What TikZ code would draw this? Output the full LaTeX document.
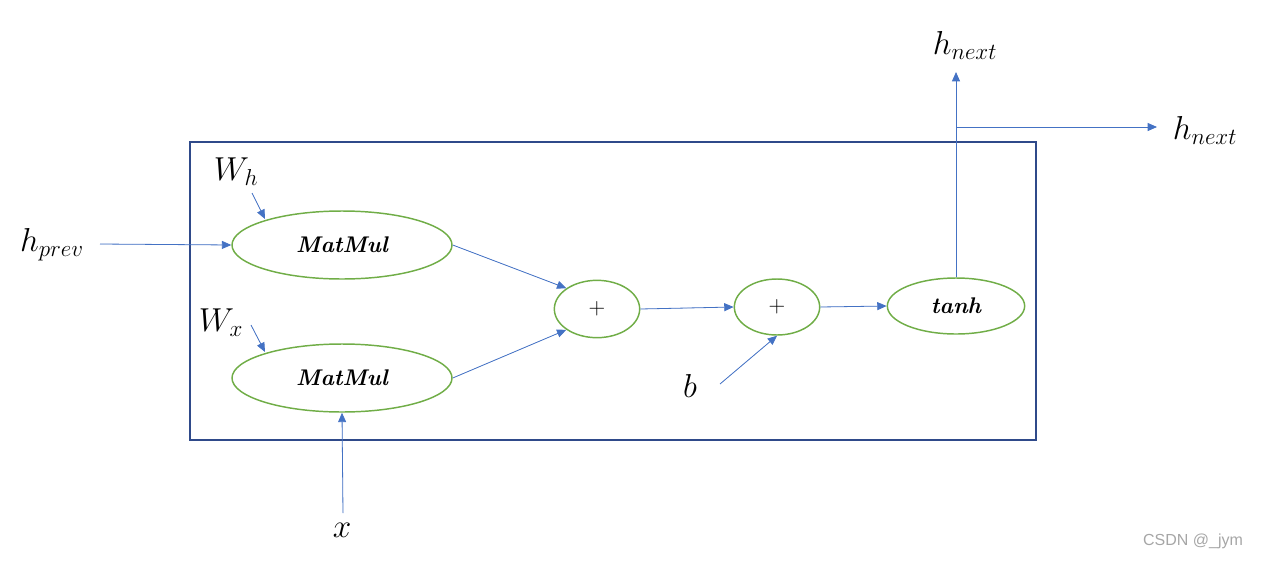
\documentclass[tikz,border=0pt]{standalone}
\usepackage{fontspec}
\newfontfamily\wmfont{Liberation Sans}
\usetikzlibrary{shapes.geometric,arrows.meta}
\definecolor{gr}{HTML}{70AD47}
\definecolor{bl}{HTML}{4472C4}
\definecolor{bx}{HTML}{2F4A8A}
\begin{document}
\begin{tikzpicture}[x=0.75pt,y=-0.75pt,
 op/.style={ellipse,draw=gr,line width=1.1pt,inner sep=0pt},
 ar/.style={draw=bl,line width=0.6pt,-{Triangle[length=7pt,width=6pt]},fill=bl},
 lb/.style={font=\fontsize{23}{26}\selectfont},
 mm/.style={font=\fontsize{17}{20}\selectfont\bfseries\itshape}]
\useasboundingbox (0,0) rectangle (1263,561);
\draw[bx,line width=1.2pt] (190,142) rectangle (1036,440);
\node[op,minimum width=165pt,minimum height=51pt,mm] (m1) at (342,245) {MatMul};
\node[op,minimum width=165pt,minimum height=51pt,mm] (m2) at (342,378) {MatMul};
\node[op,minimum width=64pt,minimum height=43pt,font=\fontsize{17}{19}\selectfont] (p1) at (597,309) {$+$};
\node[op,minimum width=64pt,minimum height=42pt,font=\fontsize{17}{19}\selectfont] (p2) at (777,307) {$+$};
\node[op,minimum width=103pt,minimum height=42pt,mm] (t) at (956,306) {tanh};
\node[lb] (hp) at (52,245) {$h_{prev}$};
\node[lb] (wh) at (236,172) {$W_h$};
\node[lb] (wx) at (221,323) {$W_x$};
\node[lb] (x) at (342,530) {$x$};
\node[lb] (b) at (690,386) {$b$};
\node[lb] (hn1) at (965,45) {$h_{next}$};
\node[lb] (hn2) at (1205,130) {$h_{next}$};
\node[text=gray!70,font=\wmfont\fontsize{12}{14}\selectfont] (wm) at (1193,541) {CSDN @\_jym};
\coordinate (a1) at (100,244);
\coordinate (a2) at (252,193);
\coordinate (a3) at (251,325);
\coordinate (a4) at (343,513);
\coordinate (a5) at (720,384);
\coordinate (top) at (956,72);
\coordinate (br) at (956,127);
\coordinate (rt) at (1157,127);
\coordinate (e2) at (265,219);
\coordinate (e3) at (265,352);
\draw[ar] (a1) -- (m1.west);
\draw[ar] (a2) -- (e2);
\draw[ar] (a3) -- (e3);
\draw[ar] (a4) -- (m2.south);
\draw[ar] (a5) -- (p2.south);
\draw[ar] (m1.east) -- (p1.north west);
\draw[ar] (m2.east) -- (p1.south west);
\draw[ar] (p1.east) -- (p2.west);
\draw[ar] (p2.east) -- (t.west);
\draw[ar] (t.north) -- (top);
\draw[ar] (br) -- (rt);
\end{tikzpicture}
\end{document}
